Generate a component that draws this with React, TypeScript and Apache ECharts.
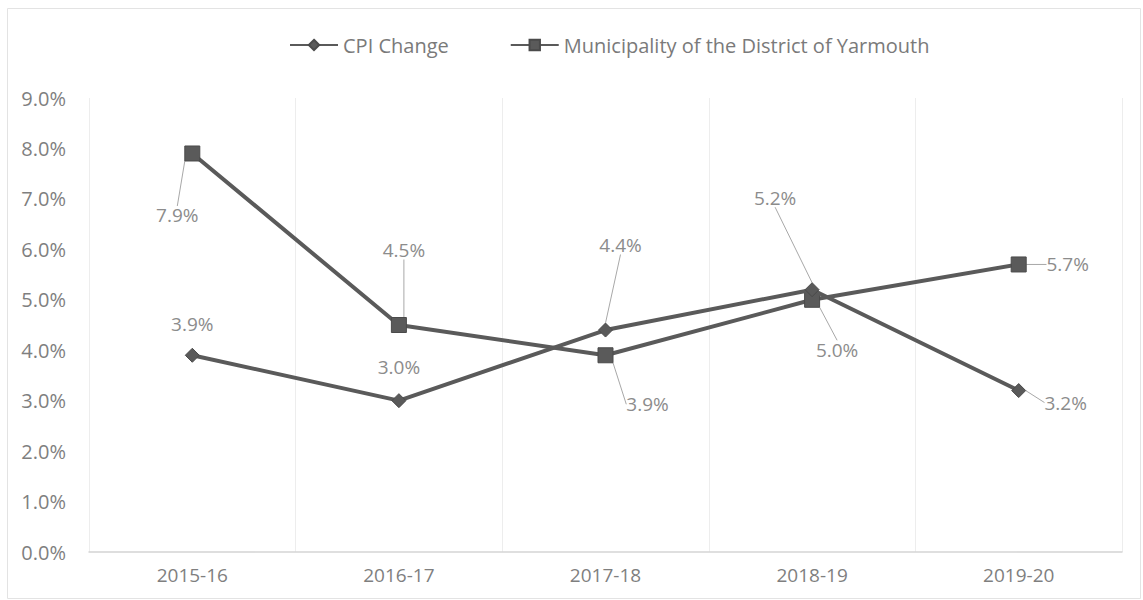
import React, { useEffect, useRef } from "react";
import * as echarts from "echarts";

const categories = ["2015-16", "2016-17", "2017-18", "2018-19", "2019-20"];
const cpiChange = [3.9, 3.0, 4.4, 5.2, 3.2];
const yarmouth = [7.9, 4.5, 3.9, 5.0, 5.7];
const yTicks = { min: 0, max: 9, interval: 1 };

// label offsets (layout only) relative to each point
const cpiLabelShift = [[0, -31], [0, -34], [15, -85], [-37, -92], [47, 12]];
const yarLabelShift = [[-15, 62], [5, -75], [42, 49], [25, 50], [49, 0]];
const cpiNoLine = [true, true, false, false, false];

const FONT = "'Open Sans', 'Noto Sans', sans-serif";
const LINE = "#5a5a5a";

export default function App() {
  const ref = useRef<HTMLDivElement>(null);
  useEffect(() => {
    document.body.style.margin = "0";
    const chart = echarts.init(ref.current!, undefined, { renderer: "svg" });
    const labelStyle = {
      show: true,
      position: "inside",
      formatter: (p: any) => `${Number(p.value).toFixed(1)}%`,
      color: "#8c8c8c",
      fontSize: 19,
      fontFamily: FONT,
    };
    chart.setOption({
      animation: false,
      backgroundColor: "#ffffff",
      graphic: [
        {
          type: "rect",
          shape: { x: 7.5, y: 8.5, width: 1133, height: 590 },
          style: { fill: "none", stroke: "#e3e3e3", lineWidth: 1 },
          silent: true,
          z: -1,
        },
      ],
      legend: {
        top: 30,
        left: 284,
        itemWidth: 48,
        itemHeight: 13,
        itemGap: 61,
        textStyle: { color: "#7a7a7a", fontSize: 20, fontFamily: FONT },
        data: ["CPI Change", "Municipality of the District of Yarmouth"],
      },
      grid: { left: 89, right: 21, top: 98, bottom: 48 },
      xAxis: {
        type: "category",
        data: categories,
        boundaryGap: true,
        axisLine: { lineStyle: { color: "#d4d4d4", width: 1.5 } },
        axisTick: { show: false },
        axisLabel: { color: "#7f7f7f", fontSize: 19, fontFamily: FONT, margin: 13 },
        splitLine: { show: true, interval: 0, lineStyle: { color: "#ededed", width: 1 } },
      },
      yAxis: {
        type: "value",
        min: yTicks.min,
        max: yTicks.max,
        interval: yTicks.interval,
        axisLine: { show: false },
        axisTick: { show: false },
        splitLine: { show: false },
        axisLabel: {
          color: "#7f7f7f",
          fontSize: 20,
          fontFamily: FONT,
          margin: 23,
          formatter: (v: number) => `${v.toFixed(1)}%`,
        },
      },
      series: [
        {
          name: "CPI Change",
          type: "line",
          data: cpiChange.map((v, i) => ({
            value: v,
            labelLine: { show: !cpiNoLine[i] },
          })),
          symbol: "diamond",
          symbolSize: 14,
          lineStyle: { color: LINE, width: 4 },
          itemStyle: { color: LINE, borderColor: "#4a4a4a", borderWidth: 1 },
          label: labelStyle,
          labelLine: { show: true, lineStyle: { color: "#a8a8a8", width: 1 } },
          labelLayout: (p: any) => ({
            dx: cpiLabelShift[p.dataIndex][0],
            dy: cpiLabelShift[p.dataIndex][1],
          }),
          z: 3,
        },
        {
          name: "Municipality of the District of Yarmouth",
          type: "line",
          data: yarmouth,
          symbol: "rect",
          symbolSize: 15,
          lineStyle: { color: LINE, width: 4 },
          itemStyle: { color: LINE, borderColor: "#4a4a4a", borderWidth: 1 },
          label: labelStyle,
          labelLine: { show: true, lineStyle: { color: "#a8a8a8", width: 1 } },
          labelLayout: (p: any) => ({
            dx: yarLabelShift[p.dataIndex][0],
            dy: yarLabelShift[p.dataIndex][1],
          }),
          z: 2,
        },
      ],
    });
    return () => chart.dispose();
  }, []);
  return <div ref={ref} style={{ width: 1143, height: 600 }} />;
}
